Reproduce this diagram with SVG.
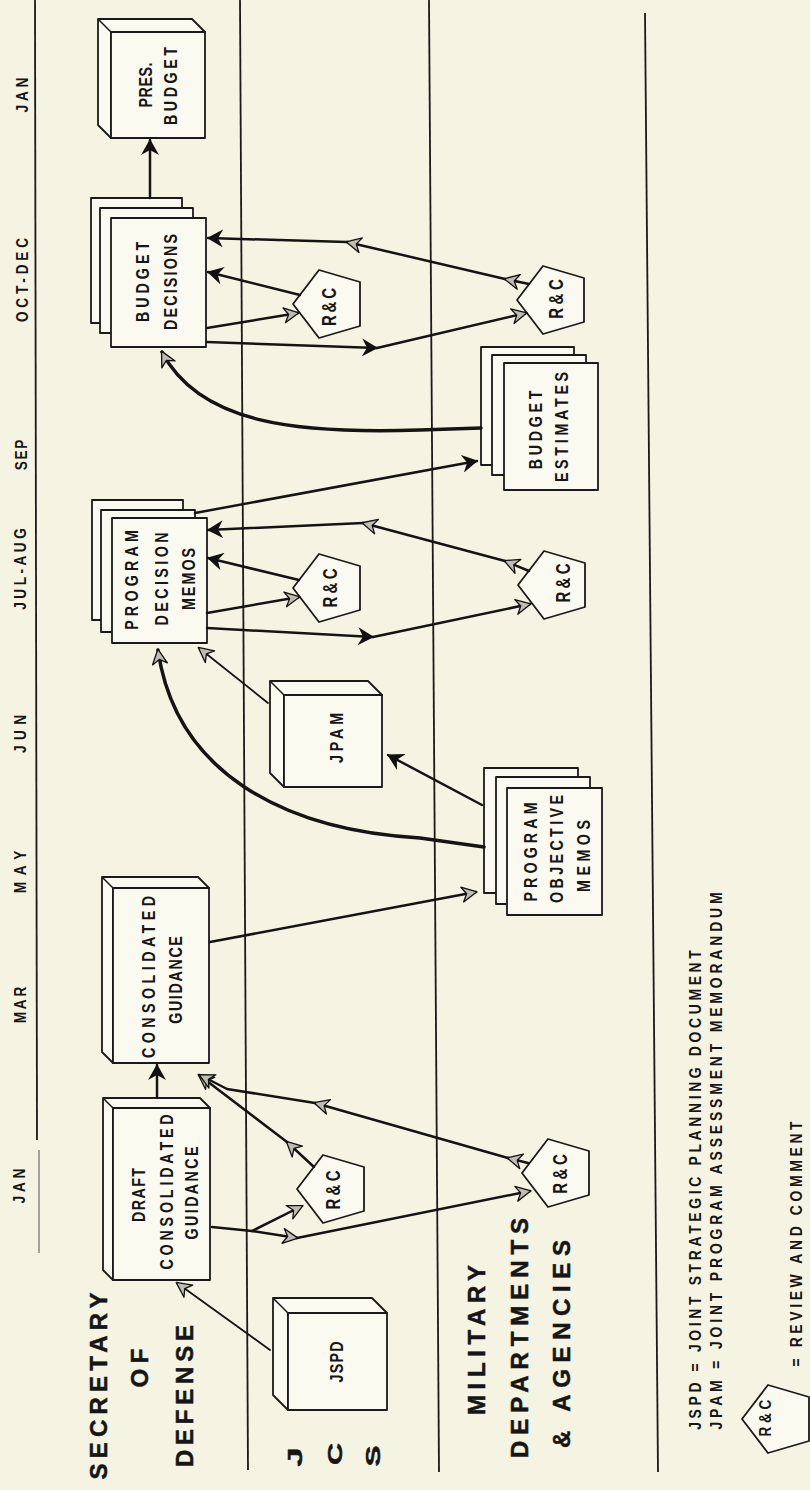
<svg xmlns="http://www.w3.org/2000/svg" width="810" height="1490" viewBox="0 0 810 1490">
<style>
  .bg{fill:#f5f4e3}
  .lane{stroke:#1a1a1a;stroke-width:1.8;fill:none}
  .box{fill:#fbfaf0;stroke:#1a1a1a;stroke-width:1.8;stroke-linejoin:round}
  .edge{fill:none;stroke:#1a1a1a;stroke-width:1.5}
  .rc{fill:#fbfaf0;stroke:#1a1a1a;stroke-width:1.8;stroke-linejoin:round}
  .cn{fill:none;stroke:#141414;stroke-width:2.5;stroke-linecap:round;stroke-linejoin:round}
  .thin{stroke-width:1.8}
  .thick{stroke-width:3.5}
  text{font-family:'Liberation Sans',Arial,sans-serif;font-weight:bold;fill:#161616;text-anchor:middle}
  .mo{font-size:16px}
  .ln{font-size:24px;stroke:#161616;stroke-width:0.5}
  .bx{font-size:19px}
  .rt{font-size:20px}
  .lg{font-size:17px}
</style>
<defs>
  <marker id="af" viewBox="0 0 16 18" refX="15" refY="9" markerWidth="16" markerHeight="18" markerUnits="userSpaceOnUse" orient="auto">
    <path d="M16,9 L0,0 L5,9 L0,18 Z" fill="#111"/>
  </marker>
  <marker id="ah" viewBox="-1 -1 17 17" refX="14" refY="7.5" markerWidth="17" markerHeight="17" markerUnits="userSpaceOnUse" orient="auto">
    <path d="M15,7.5 L0,0 L4.5,7.5 L0,15 Z" fill="#bdbdb2" stroke="#111" stroke-width="1.3" stroke-linejoin="round"/>
  </marker>
  <polygon id="pent" points="-35,0 -9,-34 32,-22 32,22 -9,34"/>
</defs>
<rect class="bg" x="0" y="0" width="810" height="1490"/>

<g id="lanes">
  <line class="lane" x1="35" y1="0" x2="37" y2="1140"/>
  <line x1="39" y1="1150" x2="39" y2="1253" stroke="#9a9a92" stroke-width="1.8"/>
  <line class="lane" x1="240" y1="0" x2="248" y2="1470"/>
  <line class="lane" x1="429" y1="0" x2="439" y2="1472"/>
  <line class="lane" x1="645" y1="13" x2="658" y2="1472"/>
</g>

<g id="months">
  <text class="mo" transform="translate(28 95) rotate(-90) scale(0.85 1)" textLength="41" lengthAdjust="spacing">JAN</text>
  <text class="mo" transform="translate(28 280) rotate(-90) scale(0.85 1)" textLength="99" lengthAdjust="spacing">OCT-DEC</text>
  <text class="mo" transform="translate(27 455) rotate(-90) scale(0.85 1)" textLength="36" lengthAdjust="spacing">SEP</text>
  <text class="mo" transform="translate(26 569) rotate(-90) scale(0.85 1)" textLength="96" lengthAdjust="spacing">JUL-AUG</text>
  <text class="mo" transform="translate(26 734) rotate(-90) scale(0.85 1)" textLength="45" lengthAdjust="spacing">JUN</text>
  <text class="mo" transform="translate(26 872) rotate(-90) scale(0.85 1)" textLength="50" lengthAdjust="spacing">MAY</text>
  <text class="mo" transform="translate(26 1005) rotate(-90) scale(0.85 1)" textLength="43" lengthAdjust="spacing">MAR</text>
  <text class="mo" transform="translate(25 1186) rotate(-90) scale(0.85 1)" textLength="41" lengthAdjust="spacing">JAN</text>
</g>

<g id="lane-labels">
  <text class="ln" x="107" y="1386" transform="rotate(-90 107 1386)" textLength="187" lengthAdjust="spacing">SECRETARY</text>
  <text class="ln" x="148" y="1368" transform="rotate(-90 148 1368)" textLength="39" lengthAdjust="spacing">OF</text>
  <text class="ln" x="193" y="1396" transform="rotate(-90 193 1396)" textLength="142" lengthAdjust="spacing">DEFENSE</text>
  <text class="ln" x="302" y="1457" transform="rotate(-90 302 1457)" textLength="19" lengthAdjust="spacingAndGlyphs" style="font-size:20px">J</text>
  <text class="ln" x="342" y="1454" transform="rotate(-90 342 1454)" textLength="22" lengthAdjust="spacingAndGlyphs" style="font-size:20px">C</text>
  <text class="ln" x="380" y="1456" transform="rotate(-90 380 1456)" textLength="21" lengthAdjust="spacingAndGlyphs" style="font-size:20px">S</text>
  <text class="ln" x="485" y="1340" transform="rotate(-90 485 1340)" textLength="150" lengthAdjust="spacing">MILITARY</text>
  <text class="ln" x="528" y="1338" transform="rotate(-90 528 1338)" textLength="240" lengthAdjust="spacing">DEPARTMENTS</text>
  <text class="ln" x="570" y="1344" transform="rotate(-90 570 1344)" textLength="208" lengthAdjust="spacing">&amp; AGENCIES</text>
</g>

<g id="pres-budget">
  <path class="box" d="M111,138 L98,125 L98,19 L192,19 L205,32 L111,32 Z"/>
  <path class="edge" d="M111,32 L98,19"/>
  <rect class="box" x="111" y="32" width="94" height="106"/>
  <text class="bx" transform="translate(152 85) rotate(-90) scale(0.75 1)" textLength="60" lengthAdjust="spacing">PRES.</text>
  <text class="bx" transform="translate(177 86) rotate(-90) scale(0.75 1)" textLength="104" lengthAdjust="spacing">BUDGET</text>
</g>

<g id="budget-decisions">
  <rect class="box" x="91" y="198" width="91" height="125"/>
  <rect class="box" x="100" y="208" width="93" height="125"/>
  <rect class="box" x="111" y="218" width="95" height="129"/>
  <text class="bx" transform="translate(149 282) rotate(-90) scale(0.75 1)" textLength="107" lengthAdjust="spacing">BUDGET</text>
  <text class="bx" transform="translate(177 282) rotate(-90) scale(0.75 1)" textLength="128" lengthAdjust="spacing">DECISIONS</text>
</g>

<g id="budget-estimates">
  <rect class="box" x="481" y="347" width="93" height="118"/>
  <rect class="box" x="492" y="355" width="94" height="120"/>
  <rect class="box" x="504" y="363" width="94" height="127"/>
  <text class="bx" transform="translate(542 430) rotate(-90) scale(0.75 1)" textLength="105" lengthAdjust="spacing">BUDGET</text>
  <text class="bx" transform="translate(568 427) rotate(-90) scale(0.75 1)" textLength="147" lengthAdjust="spacing">ESTIMATES</text>
</g>

<g id="program-decision-memos">
  <rect class="box" x="92" y="500" width="91" height="120"/>
  <rect class="box" x="101" y="510" width="94" height="122"/>
  <rect class="box" x="112" y="518" width="95" height="125"/>
  <text class="bx" transform="translate(138 580) rotate(-90) scale(0.75 1)" textLength="133" lengthAdjust="spacing">PROGRAM</text>
  <text class="bx" transform="translate(168 579) rotate(-90) scale(0.75 1)" textLength="124" lengthAdjust="spacing">DECISION</text>
  <text class="bx" transform="translate(195 579) rotate(-90) scale(0.75 1)" textLength="83" lengthAdjust="spacing">MEMOS</text>
</g>

<g id="jpam">
  <path class="box" d="M284,787 L270,773 L270,681 L368,681 L382,695 L284,695 Z"/>
  <path class="edge" d="M284,695 L270,681"/>
  <rect class="box" x="284" y="695" width="98" height="92"/>
  <text class="bx" transform="translate(343 738) rotate(-90) scale(0.75 1)" textLength="67" lengthAdjust="spacing">JPAM</text>
</g>

<g id="program-objective-memos">
  <rect class="box" x="484" y="768" width="94" height="125"/>
  <rect class="box" x="496" y="777" width="94" height="127"/>
  <rect class="box" x="507" y="788" width="95" height="127"/>
  <text class="bx" transform="translate(537 852) rotate(-90) scale(0.75 1)" textLength="132" lengthAdjust="spacing">PROGRAM</text>
  <text class="bx" transform="translate(563 849) rotate(-90) scale(0.75 1)" textLength="144" lengthAdjust="spacing">OBJECTIVE</text>
  <text class="bx" transform="translate(590 856) rotate(-90) scale(0.75 1)" textLength="96" lengthAdjust="spacing">MEMOS</text>
</g>

<g id="consolidated-guidance">
  <path class="box" d="M113,1063 L102,1052 L102,877 L198,877 L209,888 L113,888 Z"/>
  <path class="edge" d="M113,888 L102,877"/>
  <rect class="box" x="113" y="888" width="96" height="175"/>
  <text class="bx" transform="translate(155 977) rotate(-90) scale(0.75 1)" textLength="216" lengthAdjust="spacing">CONSOLIDATED</text>
  <text class="bx" transform="translate(182 980) rotate(-90) scale(0.75 1)" textLength="117" lengthAdjust="spacing">GUIDANCE</text>
</g>

<g id="draft-consolidated-guidance">
  <path class="box" d="M113,1280 L103,1270 L103,1098 L200,1098 L210,1108 L113,1108 Z"/>
  <path class="edge" d="M113,1108 L103,1098"/>
  <rect class="box" x="113" y="1108" width="97" height="172"/>
  <text class="bx" transform="translate(145 1195) rotate(-90) scale(0.75 1)" textLength="72" lengthAdjust="spacing">DRAFT</text>
  <text class="bx" transform="translate(173 1192) rotate(-90) scale(0.75 1)" textLength="207" lengthAdjust="spacing">CONSOLIDATED</text>
  <text class="bx" transform="translate(198 1193) rotate(-90) scale(0.75 1)" textLength="124" lengthAdjust="spacing">GUIDANCE</text>
</g>

<g id="jspd">
  <path class="box" d="M288,1410 L273,1395 L273,1298 L372,1298 L387,1313 L288,1313 Z"/>
  <path class="edge" d="M288,1313 L273,1298"/>
  <rect class="box" x="288" y="1313" width="99" height="97"/>
  <text class="bx" transform="translate(343 1362) rotate(-90) scale(0.75 1)" textLength="55" lengthAdjust="spacing">JSPD</text>
</g>

<g id="rc-jcs-dcg">
  <use href="#pent" class="rc" x="332" y="1189"/>
  <text class="rt" transform="translate(340 1190) rotate(-90) scale(0.75 1)" textLength="52" lengthAdjust="spacing">R&amp;C</text>
</g>
<g id="rc-mil-dcg">
  <use href="#pent" class="rc" x="557" y="1173"/>
  <text class="rt" transform="translate(567 1174) rotate(-90) scale(0.75 1)" textLength="53" lengthAdjust="spacing">R&amp;C</text>
</g>
<g id="rc-jcs-pdm">
  <use href="#pent" class="rc" x="328" y="588"/>
  <text class="rt" transform="translate(337 588) rotate(-90) scale(0.75 1)" textLength="52" lengthAdjust="spacing">R&amp;C</text>
</g>
<g id="rc-mil-pdm">
  <use href="#pent" class="rc" x="553" y="585"/>
  <text class="rt" transform="translate(570 583) rotate(-90) scale(0.75 1)" textLength="52" lengthAdjust="spacing">R&amp;C</text>
</g>
<g id="rc-jcs-bd">
  <use href="#pent" class="rc" x="328" y="304"/>
  <text class="rt" transform="translate(336 307) rotate(-90) scale(0.75 1)" textLength="51" lengthAdjust="spacing">R&amp;C</text>
</g>
<g id="rc-mil-bd">
  <use href="#pent" class="rc" x="552" y="300"/>
  <text class="rt" transform="translate(563 299) rotate(-90) scale(0.75 1)" textLength="53" lengthAdjust="spacing">R&amp;C</text>
</g>

<g id="connectors">
  <path class="cn" d="M150,198 L150,140" marker-end="url(#af)"/>
  <path class="cn" d="M157,1097 L157,1065" marker-end="url(#af)"/>
  <path class="cn thin" d="M270,1350 L177,1283" marker-end="url(#ah)"/>
  <path class="cn" d="M212,1227 L252,1231"/>
  <path class="cn" d="M252,1231 L302,1206" marker-end="url(#ah)"/>
  <path class="cn" d="M252,1231 L297,1238" marker-end="url(#ah)"/>
  <path class="cn" d="M297,1238 L530,1191" marker-end="url(#ah)"/>
  <path class="cn" d="M314,1167 L287,1142" marker-end="url(#ah)"/>
  <path class="cn" d="M287,1142 L199,1075" marker-end="url(#ah)"/>
  <path class="cn" d="M528,1163 L508,1158" marker-end="url(#ah)"/>
  <path class="cn" d="M508,1158 L315,1103" marker-end="url(#ah)"/>
  <path class="cn" d="M315,1103 L227,1089 L200,1075" marker-end="url(#ah)"/>

  <path class="cn" d="M195,513 L477,461" marker-end="url(#af)"/>
  <path class="cn thick" d="M481,428 L420,430 C300,434 200,425 162,352" marker-end="url(#ah)"/>
  <path class="cn thick" d="M484,847 L420,838 C280,830 175,770 158,650" marker-end="url(#ah)"/>
  <path class="cn" d="M210,942 L476,892" marker-end="url(#ah)"/>
  <path class="cn thin" d="M268,703 L199,648" marker-end="url(#ah)"/>
  <path class="cn" d="M482,805 L388,755" marker-end="url(#af)"/>

  <path class="cn" d="M529,284 L505,279" marker-end="url(#ah)"/>
  <path class="cn" d="M505,279 L347,242" marker-end="url(#ah)"/>
  <path class="cn" d="M347,242 L208,238" marker-end="url(#af)"/>
  <path class="cn" d="M300,295 L208,272" marker-end="url(#af)"/>
  <path class="cn" d="M207,328 L298,313" marker-end="url(#ah)"/>
  <path class="cn" d="M207,342 L377,348" marker-end="url(#af)"/>
  <path class="cn" d="M377,348 L526,313" marker-end="url(#ah)"/>

  <path class="cn" d="M529,571 L505,561" marker-end="url(#ah)"/>
  <path class="cn" d="M505,561 L363,523" marker-end="url(#ah)"/>
  <path class="cn" d="M363,523 L208,530" marker-end="url(#af)"/>
  <path class="cn" d="M299,580 L208,558" marker-end="url(#af)"/>
  <path class="cn" d="M207,613 L299,597" marker-end="url(#ah)"/>
  <path class="cn" d="M207,628 L373,637" marker-end="url(#af)"/>
  <path class="cn" d="M373,637 L530,604" marker-end="url(#ah)"/>
</g>

<g id="legend">
  <text class="lg" transform="translate(701 1190) rotate(-90) scale(0.82 1)" textLength="585" lengthAdjust="spacing">JSPD = JOINT STRATEGIC PLANNING DOCUMENT</text>
  <text class="lg" transform="translate(722 1161) rotate(-90) scale(0.82 1)" textLength="655" lengthAdjust="spacing">JPAM = JOINT PROGRAM ASSESSMENT MEMORANDUM</text>
  <use href="#pent" class="rc" x="777" y="1419"/>
  <text class="rt" transform="translate(771 1418) rotate(-90) scale(0.8 1)" textLength="46" lengthAdjust="spacing" style="font-size:17px">R&amp;C</text>
  <text class="lg" transform="translate(802 1244) rotate(-90) scale(0.82 1)" textLength="299" lengthAdjust="spacing">= REVIEW AND COMMENT</text>
</g>
</svg>
